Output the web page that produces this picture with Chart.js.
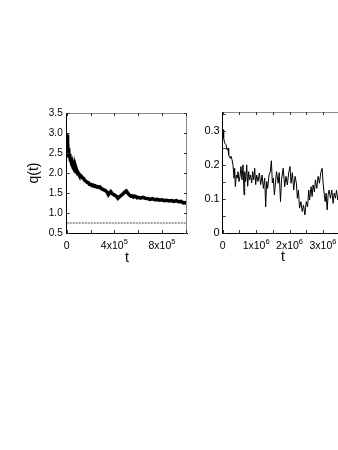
<!DOCTYPE html>
<html>
<head>
<meta charset="utf-8">
<script src="https://cdn.jsdelivr.net/npm/chart.js@4.4.0/dist/chart.umd.min.js"></script>
<style>
  html, body { margin: 0; padding: 0; background: #fff; overflow: hidden; width: 338px; height: 450px; }
  .panel { position: absolute; top: 100px; height: 175px; }
  #left-panel { left: 0; width: 200px; }
  #right-panel { left: 200px; width: 160px; }
</style>
</head>
<body>
<div class="panel" id="left-panel"><canvas id="left-chart"></canvas></div>
<div class="panel" id="right-panel"><canvas id="right-chart"></canvas></div>
<script>
// left panel: q(t), t in steps
const leftT = [
  0, 3e3, 5e3, 8e3, 1e4, 1.3e4, 1.6e4, 2e4, 2.5e4, 3e4, 3.5e4, 4e4, 4.5e4, 5e4,
  5.5e4, 6e4, 6.5e4, 7e4, 7.5e4, 8e4, 8.5e4, 9e4, 9.5e4, 10e4, 11e4, 12e4, 13e4,
  14e4, 15e4, 16e4, 17e4, 18e4, 19e4, 20e4, 21e4, 22e4, 23e4, 24e4, 25e4, 26e4,
  27e4, 28e4, 29e4, 30e4, 31e4, 32e4, 33e4, 34e4, 35e4, 36e4, 37e4, 38e4, 39e4,
  40e4, 41e4, 42e4, 43e4, 44e4, 45e4, 46e4, 47e4, 48e4, 49e4, 50e4, 51e4, 52e4,
  53e4, 54e4, 55e4, 56e4, 57e4, 58e4, 59e4, 60e4, 62e4, 64e4, 66e4, 68e4, 70e4,
  72e4, 74e4, 76e4, 78e4, 80e4, 82e4, 84e4, 86e4, 88e4, 90e4, 92e4, 94e4, 96e4,
  98e4, 100e4, 101e4
];
const leftQ = [
  3.0, 2.6, 2.95, 2.5, 2.78, 2.45, 2.62, 2.42, 2.48, 2.33, 2.38, 2.24, 2.2, 2.17,
  2.13, 2.15, 2.1, 2.07, 2.09, 2.03, 2.05, 2.0, 2.01, 1.98, 1.95, 1.93, 1.88,
  1.87, 1.82, 1.8, 1.77, 1.76, 1.72, 1.72, 1.69, 1.7, 1.67, 1.68, 1.65, 1.66,
  1.64, 1.65, 1.61, 1.6, 1.58, 1.57, 1.55, 1.52, 1.46, 1.5, 1.53, 1.49, 1.47,
  1.45, 1.43, 1.41, 1.37, 1.4, 1.42, 1.45, 1.47, 1.5, 1.53, 1.55, 1.51, 1.47,
  1.44, 1.42, 1.43, 1.4, 1.42, 1.41, 1.38, 1.39, 1.37, 1.39, 1.37, 1.36, 1.34,
  1.36, 1.33, 1.34, 1.32, 1.33, 1.31, 1.32, 1.3, 1.31, 1.29, 1.31, 1.28, 1.29,
  1.25, 1.26, 1.23
];
const leftRefQ = 0.75;
const leftXTicks = [0, 2e5, 4e5, 6e5, 8e5, 10e5];
const leftXLabelVals = [0, 4e5, 8e5];
const leftXLabelBase = ["0", "4x10", "8x10"];
const leftXLabelExp = ["", "5", "5"];
const leftYTicks = [0.5, 1.0, 1.5, 2.0, 2.5, 3.0, 3.5];
const leftYLabels = ["0.5", "1.0", "1.5", "2.0", "2.5", "3.0", "3.5"];

// right panel, t in units of 10^6
const rightT = [
  0, 0.009, 0.029, 0.059, 0.099, 0.129, 0.159, 0.179, 0.219, 0.248, 0.278,
  0.308, 0.338, 0.358, 0.378, 0.408, 0.438, 0.458, 0.488, 0.518, 0.548,
  0.578, 0.608, 0.638, 0.658, 0.688, 0.718, 0.748, 0.777, 0.807, 0.837,
  0.867, 0.897, 0.927, 0.957, 0.987, 1.017, 1.057, 1.097, 1.137, 1.177,
  1.217, 1.256, 1.286, 1.316, 1.346, 1.386, 1.426, 1.456, 1.486, 1.516,
  1.546, 1.61, 1.66, 1.69, 1.73, 1.76, 1.81, 1.855, 1.895, 1.935,
  1.975, 2.015, 2.045, 2.085, 2.125, 2.165, 2.205, 2.235, 2.265, 2.3,
  2.34, 2.38, 2.42, 2.46, 2.5, 2.54, 2.575, 2.6, 2.645, 2.675,
  2.705, 2.745, 2.775, 2.815, 2.855, 2.895, 2.935, 2.975, 3.005, 3.035,
  3.065, 3.095, 3.125, 3.155, 3.185, 3.225, 3.265, 3.305, 3.335, 3.375,
  3.405, 3.445, 3.5, 3.55
];
const rightQ = [
  0.305, 0.303, 0.278, 0.264, 0.259, 0.244, 0.249, 0.229, 0.22, 0.225, 0.215,
  0.2, 0.161, 0.19, 0.136, 0.17, 0.161, 0.18, 0.151, 0.166, 0.195,
  0.156, 0.2, 0.112, 0.18, 0.151, 0.2, 0.137, 0.18, 0.156, 0.17,
  0.147, 0.18, 0.156, 0.19, 0.142, 0.17, 0.151, 0.176, 0.142, 0.17,
  0.131, 0.161, 0.077, 0.151, 0.131, 0.17, 0.18, 0.212, 0.147, 0.161,
  0.112, 0.18, 0.146, 0.177, 0.092, 0.156, 0.19, 0.136, 0.166, 0.141,
  0.177, 0.195, 0.146, 0.177, 0.126, 0.166, 0.146, 0.102, 0.126, 0.073,
  0.092, 0.063, 0.082, 0.053, 0.092, 0.077, 0.126, 0.097, 0.136, 0.107,
  0.141, 0.121, 0.156, 0.131, 0.166, 0.146, 0.177, 0.19, 0.146, 0.117,
  0.092, 0.117, 0.068, 0.112, 0.126, 0.102, 0.126, 0.087, 0.117, 0.102,
  0.126, 0.097, 0.115, 0.09
];
const rightXTicks = [0, 0.5e6, 1e6, 1.5e6, 2e6, 2.5e6, 3e6, 3.5e6];
const rightXLabelVals = [0, 1e6, 2e6, 3e6];
const rightXLabelBase = ["0", "1x10", "2x10", "3x10"];
const rightXLabelExp = ["", "6", "6", "6"];
const rightYTicks = [0, 0.05, 0.1, 0.15, 0.2, 0.25, 0.3, 0.35];
const rightYLabelVals = [0, 0.1, 0.2, 0.3];
const rightYLabels = ["0", "0.1", "0.2", "0.3"];

const FONT = "'Liberation Sans', Arial, sans-serif";

function labelFor(vals, labels) {
  return function (value) {
    const i = vals.findIndex(v => Math.abs(v - value) < 1e-9 * Math.max(1, Math.abs(v)));
    return i >= 0 ? labels[i] : "";
  };
}

// inward tick marks on all four sides, grey top/right frame, x labels with exponents
const frameTicks = {
  id: "frameTicks",
  afterDatasetsDraw(chart, args, opts) {
    const { ctx, chartArea: a, scales: { x, y } } = chart;
    ctx.save();
    ctx.lineWidth = 1;
    ctx.strokeStyle = "#8a8a8a";
    ctx.beginPath();
    ctx.moveTo(a.left, a.top + 0.5);
    ctx.lineTo(a.right, a.top + 0.5);
    ctx.moveTo(a.right - 0.5, a.top);
    ctx.lineTo(a.right - 0.5, a.bottom);
    ctx.stroke();
    ctx.strokeStyle = "#333";
    ctx.beginPath();
    x.ticks.forEach(t => {
      const px = Math.round(x.getPixelForValue(t.value)) + 0.5;
      ctx.moveTo(px, a.bottom);
      ctx.lineTo(px, a.bottom - 3);
      ctx.moveTo(px, a.top);
      ctx.lineTo(px, a.top + 3);
    });
    y.ticks.forEach(t => {
      const py = Math.round(y.getPixelForValue(t.value)) + 0.5;
      ctx.moveTo(a.left, py);
      ctx.lineTo(a.left + 3, py);
      ctx.moveTo(a.right, py);
      ctx.lineTo(a.right - 3, py);
    });
    ctx.stroke();

    // x tick labels: base text plus a raised exponent
    ctx.fillStyle = "#000";
    ctx.textBaseline = "alphabetic";
    ctx.textAlign = "left";
    const baseFont = opts.baseSize + "px " + FONT;
    const expFont = opts.expSize + "px " + FONT;
    const baseY = a.bottom + 16;
    opts.vals.forEach((v, i) => {
      ctx.font = baseFont;
      const wb = ctx.measureText(opts.base[i]).width;
      ctx.font = expFont;
      const we = opts.exp[i] ? ctx.measureText(opts.exp[i]).width : 0;
      const left = x.getPixelForValue(v) - (wb + we) / 2;
      ctx.font = baseFont;
      ctx.fillText(opts.base[i], left, baseY);
      if (opts.exp[i]) {
        ctx.font = expFont;
        ctx.fillText(opts.exp[i], left + wb, baseY - 5);
      }
    });
    ctx.restore();
  },
};

function makeScales(cfg) {
  return {
    x: {
      type: "linear",
      min: cfg.xMin,
      max: cfg.xMax,
      afterBuildTicks: s => { s.ticks = cfg.xTicks.map(v => ({ value: v })); },
      afterFit: s => { s.height = 42; },
      grid: { display: false, drawTicks: false },
      border: { color: "#000", width: 1 },
      ticks: { display: false },
      title: {
        display: true,
        text: "t",
        color: "#000",
        font: { family: FONT, size: 14 },
        padding: { top: 0, bottom: cfg.titleBottom },
      },
    },
    y: {
      type: "linear",
      min: cfg.yMin,
      max: cfg.yMax,
      afterBuildTicks: s => { s.ticks = cfg.yTicks.map(v => ({ value: v })); },
      afterFit: s => { s.width = cfg.yWidth; },
      grid: { display: false, drawTicks: false },
      border: { color: "#000", width: 1 },
      ticks: {
        autoSkip: false,
        padding: cfg.yPad,
        color: "#000",
        font: { family: FONT, size: cfg.yFont },
        callback: labelFor(cfg.yLabelVals, cfg.yLabels),
      },
      title: cfg.yTitle
        ? {
            display: true,
            text: cfg.yTitle,
            color: "#000",
            font: { family: FONT, size: 14 },
            padding: { top: 26, bottom: 0 },
          }
        : { display: false },
    },
  };
}

const baseOptions = {
  responsive: true,
  maintainAspectRatio: false,
  animation: false,
};

new Chart(document.getElementById("left-chart"), {
  type: "scatter",
  data: {
    datasets: [
      {
        data: leftT.map((t, i) => ({ x: t, y: leftQ[i] })),
        showLine: true,
        borderColor: "#000",
        borderWidth: 3.5,
        pointRadius: 0,
        tension: 0,
      },
      {
        data: [{ x: 0, y: leftRefQ }, { x: 1.01e6, y: leftRefQ }],
        showLine: true,
        borderColor: "#444",
        borderWidth: 1,
        borderDash: [2, 1],
        pointRadius: 0,
      },
    ],
  },
  options: {
    ...baseOptions,
    layout: { padding: { top: 13, right: 13, left: 0, bottom: 0 } },
    plugins: {
      legend: { display: false },
      tooltip: { enabled: false },
      frameTicks: { vals: leftXLabelVals, base: leftXLabelBase, exp: leftXLabelExp, baseSize: 10.5, expSize: 7.5 },
    },
    scales: makeScales({
      xMin: 0, xMax: 1.01e6, xTicks: leftXTicks,
      yMin: 0.5, yMax: 3.5, yTicks: leftYTicks, yLabelVals: leftYTicks, yLabels: leftYLabels,
      yFont: 10, yWidth: 66.7, yPad: 4, titleBottom: 8, yTitle: "q(t)",
    }),
  },
  plugins: [frameTicks],
});

new Chart(document.getElementById("right-chart"), {
  type: "scatter",
  data: {
    datasets: [
      {
        data: rightT.map((t, i) => ({ x: t * 1e6, y: rightQ[i] })),
        showLine: true,
        borderColor: "#000",
        borderWidth: 1,
        pointRadius: 0,
        tension: 0,
      },
    ],
  },
  options: {
    ...baseOptions,
    layout: { padding: { top: 12, right: 17, left: 0, bottom: 0 } },
    plugins: {
      legend: { display: false },
      tooltip: { enabled: false },
      frameTicks: { vals: rightXLabelVals, base: rightXLabelBase, exp: rightXLabelExp, baseSize: 10.5, expSize: 7.5 },
    },
    scales: makeScales({
      xMin: 0, xMax: 3.6e6, xTicks: rightXTicks,
      yMin: 0, yMax: 0.355, yTicks: rightYTicks, yLabelVals: rightYLabelVals, yLabels: rightYLabels,
      yFont: 11, yWidth: 22.7, yPad: 3, titleBottom: 9, yTitle: null,
    }),
  },
  plugins: [frameTicks],
});
</script>
</body>
</html>
